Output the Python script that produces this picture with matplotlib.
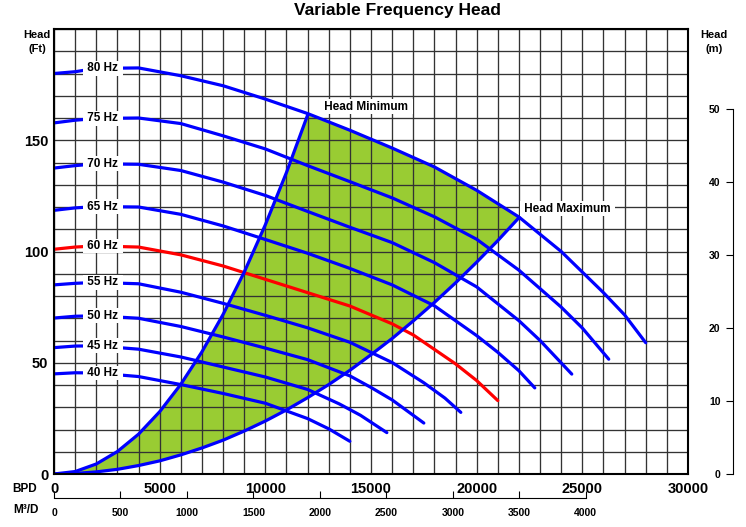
import matplotlib
matplotlib.use('Agg')
import matplotlib.pyplot as plt

plt.rcParams['font.family'] = ['Liberation Sans', 'DejaVu Sans']
plt.rcParams['font.weight'] = 'bold'

# pump curves: flow in BPD, head in ft
q40 = [0, 1000, 2000, 4000, 6000, 8000, 10000, 12000, 13000, 14000]
h40 = [45, 45.5, 45.4, 43.8, 40.2, 36.2, 31.8, 24.9, 20.3, 14.7]
q45 = [0, 1000, 2000, 4000, 6000, 8000, 10000, 12000, 13500, 14500, 15750]
h45 = [56.8, 57.5, 57.6, 56.1, 52.6, 48.1, 43.6, 38, 31.5, 26.4, 18.6]
q50 = [0, 1000, 2000, 4000, 6000, 8000, 10000, 12000, 14000, 15000, 16000, 17500]
h50 = [70.1, 70.9, 71.1, 70, 66.3, 61.6, 56.6, 51.4, 44.1, 38.9, 33.3, 22.9]
q55 = [0, 1000, 2000, 4000, 6000, 8000, 10000, 12000, 14000, 16000, 17500, 18500, 19250]
h55 = [85, 85.7, 86.1, 85.5, 81.7, 76.7, 71.3, 65.7, 59.2, 50.1, 41, 34.1, 27.7]
q60 = [0, 1000, 2000, 4000, 6000, 8000, 10000, 12000, 14000, 16000, 17000, 18000, 19000, 20000, 21000]
h60 = [101, 102, 102.5, 102, 98.5, 93.5, 87.5, 81.5, 75.5, 67.5, 62.5, 56, 49.5, 42, 33]
q65 = [0, 1000, 2000, 4000, 6000, 8000, 10000, 12000, 14000, 16000, 18000, 20000, 21000, 22000, 22750]
h65 = [118.5, 119.6, 120.2, 120, 116.7, 111.5, 105.4, 99.2, 92.4, 85, 75.6, 62.2, 54.7, 46.4, 38.7]
q70 = [0, 1000, 2000, 4000, 6000, 8000, 10000, 12000, 14000, 16000, 18000, 20000, 22000, 23000, 24500]
h70 = [137.5, 138.6, 139.4, 139.2, 136.4, 131.2, 125.2, 118, 110.9, 104, 95, 84.1, 68.9, 60, 44.9]
q75 = [0, 1000, 2000, 4000, 6000, 8000, 10000, 12000, 14000, 16000, 18000, 20000, 22000, 24000, 25000, 26250]
h75 = [157.8, 159, 159.8, 160, 157.5, 152, 146.1, 138.6, 131.4, 124.1, 115.6, 105.5, 91.6, 75, 65.6, 51.6]
q80 = [0, 1000, 2000, 4000, 6000, 8000, 10000, 12000, 14000, 16000, 18000, 20000, 22000, 24000, 26000, 27000, 28000]
h80 = [180, 180.8, 182.3, 182.5, 179, 174.5, 168.5, 162, 154.5, 146.5, 138, 127.5, 115.5, 100, 81.5, 71.5, 59]

# head minimum / head maximum boundaries
q_min = [0, 1000, 2000, 3000, 4000, 5000, 6000, 7000, 8000, 9000, 10000, 11000, 12000]
h_min = [0, 1.1, 4.5, 10.1, 17.9, 28, 40.3, 54.9, 71.7, 90.7, 112, 135.5, 161.3]
q_max = [0, 1000, 2000, 3000, 4000, 5000, 6000, 7000, 8000, 9000, 10000, 11000,
         12000, 13000, 14000, 15000, 16000, 17000, 18000, 19000, 20000, 21000, 22000]
h_max = [0, 0.24, 0.95, 2.1, 3.8, 5.9, 8.6, 11.7, 15.2, 19.3, 23.8, 28.8,
         34.3, 40.2, 46.6, 53.6, 60.9, 68.8, 77.1, 85.9, 95.2, 104.9, 115.2]

curves = [("40 Hz", q40, h40, 'blue'), ("45 Hz", q45, h45, 'blue'),
          ("50 Hz", q50, h50, 'blue'), ("55 Hz", q55, h55, 'blue'),
          ("60 Hz", q60, h60, 'red'), ("65 Hz", q65, h65, 'blue'),
          ("70 Hz", q70, h70, 'blue'), ("75 Hz", q75, h75, 'blue'),
          ("80 Hz", q80, h80, 'blue')]

fig = plt.figure(figsize=(7.46, 5.27), dpi=100)
ax = fig.add_axes([54/746, 53/527, 634/746, 445/527])
ax.set_xlim(0, 30000)
ax.set_ylim(0, 200)

# green operating window: min curve, 80 Hz curve on top, max curve back down
top_q = [q for q in q80 if 12000 < q <= 22000]
top_h = [h for q, h in zip(q80, h80) if 12000 < q <= 22000]
ax.fill(q_min + top_q + q_max[::-1], h_min + top_h + h_max[::-1],
        color='#99cc33', lw=0, zorder=1)

ax.set_xticks(range(0, 30001, 5000))
ax.set_xticks(range(0, 30001, 1000), minor=True)
ax.set_yticks([0, 50, 100, 150])
ax.set_yticks(range(0, 201, 10), minor=True)
ax.set_axisbelow(False)
ax.grid(which='both', color='#333333', lw=0.95)
ax.tick_params(which='both', length=0)
ax.tick_params(axis='x', pad=6, labelsize=10.5)
ax.tick_params(axis='y', pad=4, labelsize=10.5)
for s in ax.spines.values():
    s.set_linewidth(1.5)
    s.set_zorder(4)

for name, q, h, c in curves:
    ax.plot(q, h, color=c, lw=2.3, zorder=3, solid_capstyle='round')
    ax.text(2300, h[2], " " + name + " ", ha='center', va='center', fontsize=8.5,
            zorder=5, bbox=dict(boxstyle='square,pad=0.12', fc='white', ec='none'))

ax.plot(q_min, h_min, color='blue', lw=2.3, zorder=3)
ax.plot(q_max, h_max, color='blue', lw=2.3, zorder=3)
ax.text(14770, 165, " Head Minimum ", ha='center', va='center', fontsize=8.5, zorder=5,
        bbox=dict(boxstyle='square,pad=0.12', fc='white', ec='none'))
ax.text(24300, 119.2, " Head Maximum ", ha='center', va='center', fontsize=8.5, zorder=5,
        bbox=dict(boxstyle='square,pad=0.12', fc='white', ec='none'))

# right axis in metres
axm = fig.add_axes([733/746, 53/527, 0.0001, 445/527])
axm.set_ylim(0, 200 * 0.3048)
for s in ['top', 'right', 'bottom']:
    axm.spines[s].set_visible(False)
axm.spines['left'].set_bounds(0, 50)
axm.set_yticks(range(0, 51, 10))
axm.set_xticks([])
axm.tick_params(axis='y', direction='out', length=5, labelsize=7.5, pad=4)
axm.patch.set_visible(False)

# bottom axis in m3/d
axq = fig.add_axes([54/746, 29/527, 634/746, 0.0001])
axq.set_xlim(0, 30000 / 6.2898)
for s in ['top', 'right', 'left']:
    axq.spines[s].set_visible(False)
axq.spines['bottom'].set_bounds(0, 4000)
axq.set_xticks(range(0, 4001, 500))
axq.set_yticks([])
axq.tick_params(axis='x', direction='in', length=5, labelsize=7.5, pad=7)
axq.patch.set_visible(False)

fig.text(397/746, 1 - 11/527, "Variable Frequency Head", ha='center', va='center', fontsize=12.5)
fig.text(37/746, 1 - 42/527, "Head\n(Ft)", ha='center', va='center', fontsize=8, linespacing=1.4)
fig.text(714/746, 1 - 42/527, "Head\n(m)", ha='center', va='center', fontsize=8, linespacing=1.4)
fig.text(25/746, 1 - 489/527, "BPD", ha='center', va='center', fontsize=8.5)
fig.text(26/746, 1 - 510/527, "M³/D", ha='center', va='center', fontsize=8.5)

fig.savefig('out.png', dpi=100)
